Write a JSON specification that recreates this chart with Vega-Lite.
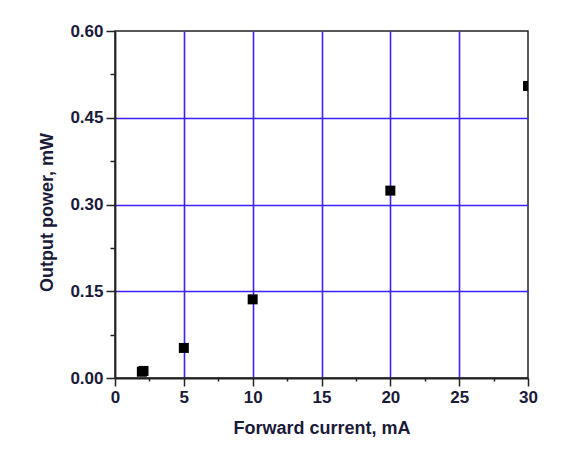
{
  "$schema": "https://vega.github.io/schema/vega-lite/v6.json",
  "width": 413,
  "height": 347,
  "autosize": {"type": "none"},
  "padding": {"left": 115, "top": 31, "right": 35, "bottom": 73},
  "background": "white",
  "data": {
    "values": [
      {"current": 1.95, "power": 0.0108},
      {"current": 2.07, "power": 0.0122},
      {"current": 5, "power": 0.052},
      {"current": 10, "power": 0.136},
      {"current": 20, "power": 0.324},
      {"current": 30, "power": 0.505}
    ]
  },
  "mark": {"type": "point", "shape": "square", "filled": true, "color": "black", "opacity": 1, "size": 100, "clip": true},
  "encoding": {
    "x": {
      "field": "current",
      "type": "quantitative",
      "scale": {"domain": [0, 30], "nice": false, "zero": false},
      "axis": {
        "title": "Forward current, mA",
        "values": [0, 2.5, 5, 7.5, 10, 12.5, 15, 17.5, 20, 22.5, 25, 27.5, 30],
        "labelExpr": "datum.value % 5 === 0 ? datum.label : ''",
        "tickSize": {"condition": {"test": "datum.value % 5 === 0", "value": 8}, "value": 3},
        "gridOpacity": {"condition": {"test": "datum.value % 5 === 0 && datum.value > 0.1 && datum.value < 29.9", "value": 1}, "value": 0},
        "labelPadding": 3,
        "titlePadding": 14
      }
    },
    "y": {
      "field": "power",
      "type": "quantitative",
      "scale": {"domain": [0, 0.6], "nice": false},
      "axis": {
        "title": "Output power, mW",
        "values": [0, 0.075, 0.15, 0.225, 0.3, 0.375, 0.45, 0.525, 0.6],
        "format": ".2f",
        "labelExpr": "round(datum.value * 1000) % 150 === 0 ? datum.label : ''",
        "tickSize": {"condition": {"test": "round(datum.value * 1000) % 150 === 0", "value": 9}, "value": 5},
        "gridOpacity": {"condition": {"test": "round(datum.value * 1000) % 150 === 0 && datum.value > 0.01 && datum.value < 0.59", "value": 1}, "value": 0},
        "labelPadding": 3,
        "titlePadding": 13,
        "titleY": 181
      }
    }
  },
  "config": {
    "view": {"stroke": "#222222", "strokeWidth": 1.5},
    "axis": {
      "grid": true,
      "gridColor": "#3d22ff",
      "gridWidth": 1.6,
      "domainColor": "#222222",
      "domainWidth": 1.8,
      "tickColor": "#222222",
      "tickWidth": 1.5,
      "labelFont": "Liberation Sans",
      "labelFontWeight": "bold",
      "labelFontSize": 17,
      "labelColor": "#1a1a3a",
      "titleFont": "Liberation Sans",
      "titleFontWeight": "bold",
      "titleFontSize": 18,
      "titleColor": "#1a1a3a",
      "labelFlush": false,
      "labelOverlap": false
    }
  }
}
